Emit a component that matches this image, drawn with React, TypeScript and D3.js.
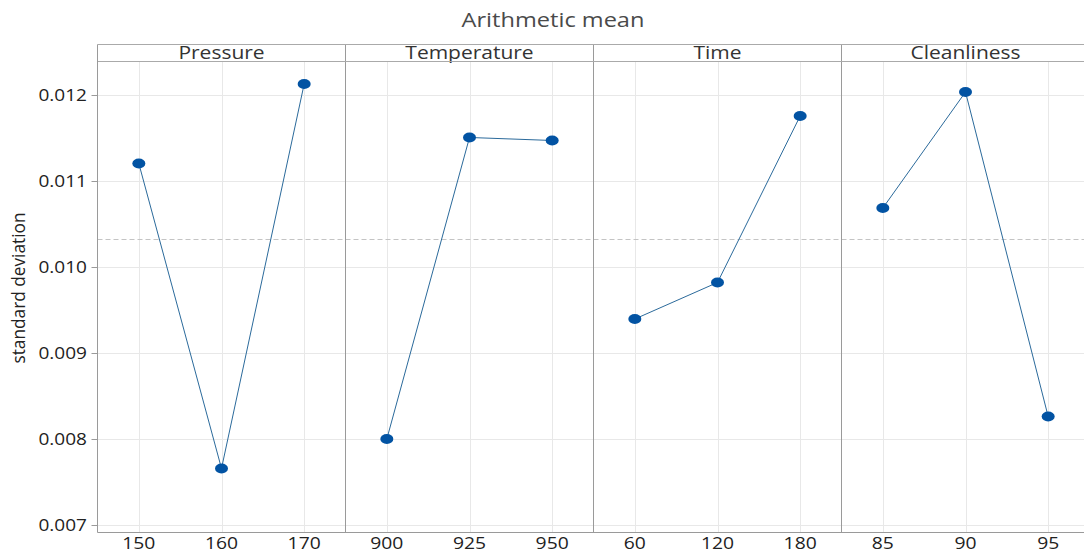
import React, { useEffect, useRef } from 'react';
import * as d3 from 'd3';

// factor panels, their levels and the mean std-dev per level
const factors = ['Pressure', 'Temperature', 'Time', 'Cleanliness'];
const levels = [
  ['150', '160', '170'],
  ['900', '925', '950'],
  ['60', '120', '180'],
  ['85', '90', '95'],
];
const pressureValues = [0.011203, 0.007655, 0.012128];
const temperatureValues = [0.007998, 0.011506, 0.011471];
const timeValues = [0.009394, 0.009819, 0.011756];
const cleanlinessValues = [0.010685, 0.012035, 0.00826];
const seriesValues = [pressureValues, temperatureValues, timeValues, cleanlinessValues];
const overallMean = 0.01032;
const yTicks = [0.007, 0.008, 0.009, 0.01, 0.011, 0.012];

const FONT = '"Open Sans", "Noto Sans", sans-serif';

export default function App() {
  const svgRef = useRef<SVGSVGElement | null>(null);

  useEffect(() => {
    const width = 1084;
    const height = 553;
    const left = 97.5;
    const panelW = 248;
    const stripTop = 44.5;
    const plotTop = 61.5;
    const plotBottom = 532.5;

    const svg = d3.select(svgRef.current);
    svg.attr('width', width).attr('height', height);
    svg.selectAll('*').remove();

    const y = d3.scaleLinear().domain([0.00691, 0.01239]).range([plotBottom, plotTop]);

    // the source picture is a bit wider than tall, so text gets stretched horizontally
    const label = (parent: any, x: number, yy: number, txt: string, size: number, sx: number, anchor: string, fill: string) =>
      parent.append('text')
        .attr('transform', `translate(${x},${yy}) scale(${sx},1)`)
        .attr('text-anchor', anchor)
        .attr('font-family', FONT)
        .attr('font-size', size)
        .attr('fill', fill)
        .text(txt);

    svg.append('rect').attr('width', width).attr('height', height).attr('fill', '#fff');

    label(svg, 553, 27, 'Arithmetic mean', 20, 1.18, 'middle', '#4a4a4a');

    // y axis title
    svg.append('text')
      .attr('transform', 'translate(25,288) rotate(-90)')
      .attr('text-anchor', 'middle')
      .attr('font-family', FONT)
      .attr('font-size', 19)
      .attr('fill', '#222')
      .attr('textLength', 151)
      .attr('lengthAdjust', 'spacingAndGlyphs')
      .text('standard deviation');

    factors.forEach((name, i) => {
      const x0 = left + i * panelW;
      const x = d3.scalePoint<string>().domain(levels[i]).range([x0, x0 + panelW]).padding(0.5);
      const g = svg.append('g');

      // grid
      g.selectAll('line.hgrid')
        .data(yTicks)
        .enter()
        .append('line')
        .attr('x1', x0)
        .attr('x2', x0 + panelW)
        .attr('y1', (d) => Math.round(y(d)) + 0.5)
        .attr('y2', (d) => Math.round(y(d)) + 0.5)
        .attr('stroke', '#e8e8e8')
        .attr('stroke-width', 1);
      g.selectAll('line.vgrid')
        .data(levels[i])
        .enter()
        .append('line')
        .attr('x1', (d) => Math.round(x(d)!) + 0.5)
        .attr('x2', (d) => Math.round(x(d)!) + 0.5)
        .attr('y1', plotTop)
        .attr('y2', plotBottom)
        .attr('stroke', '#e8e8e8')
        .attr('stroke-width', 1);

      // overall mean reference
      g.append('line')
        .attr('x1', x0)
        .attr('x2', x0 + panelW)
        .attr('y1', Math.round(y(overallMean)) + 0.5)
        .attr('y2', Math.round(y(overallMean)) + 0.5)
        .attr('stroke', '#c4c4c4')
        .attr('stroke-dasharray', '5 3');

      // strip
      label(g, x0 + panelW / 2, 59, name, 17.5, 1.2, 'middle', '#333');

      // x tick labels
      levels[i].forEach((lv) => label(g, x(lv)!, 549, lv, 16.5, 1.17, 'middle', '#222'));

      const pts = levels[i].map((lv, j) => [x(lv)!, y(seriesValues[i][j])] as [number, number]);
      g.append('path')
        .attr('d', d3.line()(pts))
        .attr('fill', 'none')
        .attr('stroke', '#2b6a9b')
        .attr('stroke-width', 1);
      g.selectAll('ellipse')
        .data(pts)
        .enter()
        .append('ellipse')
        .attr('cx', (d) => d[0])
        .attr('cy', (d) => d[1])
        .attr('rx', 6.5)
        .attr('ry', 5)
        .attr('fill', '#0253a3');

      // panel divider
      if (i > 0) {
        g.append('line')
          .attr('x1', x0)
          .attr('x2', x0)
          .attr('y1', stripTop)
          .attr('y2', plotBottom)
          .attr('stroke', '#9a9a9a');
      }
    });

    // frame lines
    const right = left + panelW * factors.length;
    svg.append('line').attr('x1', left).attr('x2', right).attr('y1', stripTop).attr('y2', stripTop).attr('stroke', '#aaa');
    svg.append('line').attr('x1', left).attr('x2', right).attr('y1', plotTop).attr('y2', plotTop).attr('stroke', '#aaa');
    svg.append('line').attr('x1', left).attr('x2', right).attr('y1', plotBottom).attr('y2', plotBottom).attr('stroke', '#9a9a9a');
    svg.append('line').attr('x1', left).attr('x2', left).attr('y1', stripTop).attr('y2', plotBottom).attr('stroke', '#9a9a9a');

    // y axis ticks + labels
    const yg = svg.append('g');
    yg.selectAll('line')
      .data(yTicks)
      .enter()
      .append('line')
      .attr('x1', left - 6)
      .attr('x2', left)
      .attr('y1', (d) => Math.round(y(d)) + 0.5)
      .attr('y2', (d) => Math.round(y(d)) + 0.5)
      .attr('stroke', '#9a9a9a');
    yTicks.forEach((t) => label(yg, 87, y(t) + 6, d3.format('.3f')(t), 17, 1.12, 'end', '#222'));
  }, []);

  return (
    <div style={{ position: 'absolute', left: 0, top: 0 }}>
      <svg ref={svgRef} style={{ display: 'block' }} />
    </div>
  );
}
